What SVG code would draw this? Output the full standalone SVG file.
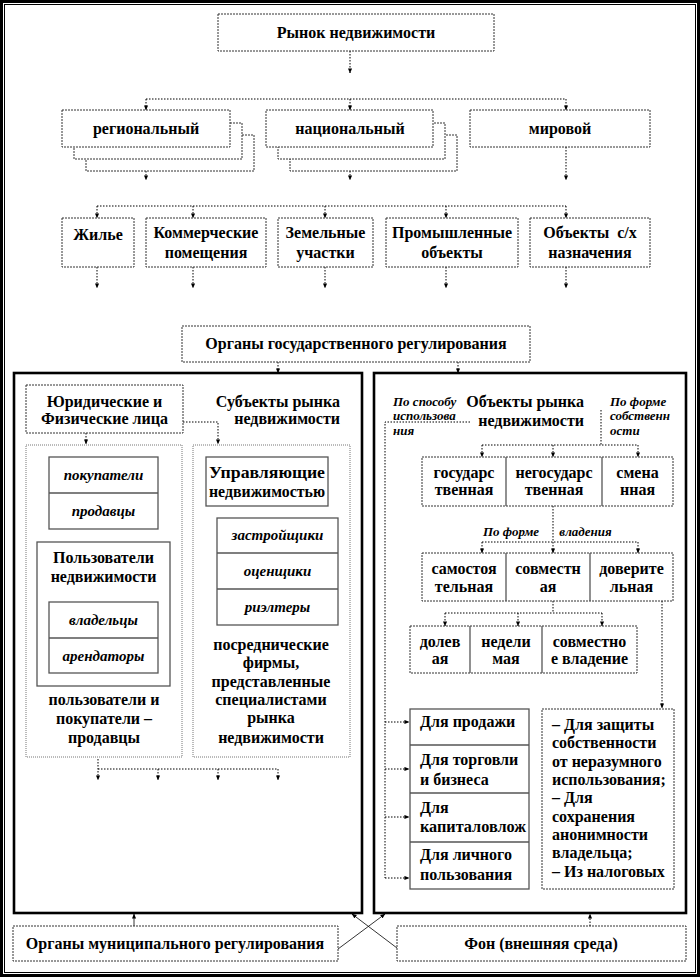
<svg xmlns="http://www.w3.org/2000/svg" width="700" height="977" viewBox="0 0 700 977" font-family="'Liberation Serif','Times New Roman',serif">
<defs>
<marker id="a" viewBox="0 0 6 6" refX="5.5" refY="3" markerWidth="5" markerHeight="5" markerUnits="userSpaceOnUse" orient="auto"><path d="M0,0.5 L6,3 L0,5.5 Z" fill="#000"/></marker>
<style>
.t{font-family:"Liberation Serif","Times New Roman",serif;font-weight:bold;font-size:16px;text-anchor:middle;fill:#000}
.st{text-anchor:start}
.en{text-anchor:end}
.i{font-style:italic;font-size:15px}
.sm{font-size:13px}
.box{fill:#fff;stroke:#333;stroke-width:1;stroke-dasharray:2 1}
.sol{fill:#fff;stroke:#555;stroke-width:1.3}
.dv{stroke:#555;stroke-width:1.3}
.cont{fill:none;stroke:#777;stroke-width:1;stroke-dasharray:1 1}
.pan{fill:none;stroke:#000;stroke-width:2.6}
.c{fill:none;stroke:#000;stroke-width:1;stroke-dasharray:1.5 1.5}
.ca{fill:none;stroke:#000;stroke-width:1;stroke-dasharray:1.5 1.5;marker-end:url(#a)}
.cs{fill:none;stroke:#000;stroke-width:0.8;marker-end:url(#a)}
</style>
</defs>
<rect x="1.5" y="1.5" width="697" height="974" fill="#fff" stroke="#000" stroke-width="3"/>
<rect x="4.5" y="4.5" width="691" height="968" fill="none" stroke="#000" stroke-width="1"/>

<g id="connectors">
<path class="ca" d="M350,51 V73"/>
<path class="c" d="M146,99 H566"/>
<path class="ca" d="M146,99 V110"/>
<path class="ca" d="M350,99 V110"/>
<path class="ca" d="M566,99 V110"/>
<path class="ca" d="M146,171 V180"/>
<path class="ca" d="M350,171 V180"/>
<path class="ca" d="M566,147 V180"/>
<path class="c" d="M97,206 H566"/>
<path class="ca" d="M97,206 V218"/>
<path class="ca" d="M193,206 V218"/>
<path class="ca" d="M325,206 V218"/>
<path class="ca" d="M446,206 V218"/>
<path class="ca" d="M566,206 V218"/>
<path class="ca" d="M97,267 V288"/>
<path class="ca" d="M193,267 V288"/>
<path class="ca" d="M325,267 V288"/>
<path class="ca" d="M446,267 V288"/>
<path class="ca" d="M566,267 V288"/>
<path class="ca" d="M278,362 V373"/>
<path class="ca" d="M458,362 V373"/>
<path class="ca" d="M183,422 H218 V444"/>
<path class="ca" d="M86,433 V444"/>
<path class="ca" d="M98,759 V780"/>
<path class="c" d="M98,769 H278"/>
<path class="ca" d="M158,769 V780"/>
<path class="ca" d="M218,769 V780"/>
<path class="ca" d="M278,769 V780"/>
<path class="c" d="M470,422 H385 V878"/>
<path class="ca" d="M385,722 H409"/>
<path class="ca" d="M385,769 H409"/>
<path class="ca" d="M385,817 H409"/>
<path class="ca" d="M385,878 H409"/>
<path class="c" d="M601,410 V445 M482,445 H638"/>
<path class="ca" d="M482,445 V457"/>
<path class="ca" d="M553,445 V457"/>
<path class="ca" d="M638,445 V457"/>
<path class="c" d="M553,506 V542 M482,542 H638"/>
<path class="ca" d="M482,542 V553"/>
<path class="ca" d="M553,542 V553"/>
<path class="ca" d="M638,542 V553"/>
<path class="c" d="M553,601 V613 M445,613 H602"/>
<path class="ca" d="M445,613 V626"/>
<path class="ca" d="M518,613 V626"/>
<path class="ca" d="M602,613 V626"/>
<path class="ca" d="M662,601 V708"/>
<path class="cs" d="M134,926 V914"/>
<path class="ca" d="M590,926 V914"/>
<path class="cs" d="M338,949 L385,914"/>
<path class="cs" d="M397,948 L352,914"/>
</g>

<g id="title"><rect class="box" x="218" y="14" width="276" height="37"/><text class="t" x="356" y="38">Рынок недвижимости</text></g>

<g id="regional">
<rect class="box" x="86" y="135" width="168" height="36"/>
<rect class="box" x="74" y="123" width="168" height="36"/>
<rect class="box" x="62" y="110" width="168" height="37"/>
<text class="t" x="146" y="134">региональный</text>
</g>
<g id="national">
<rect class="box" x="290" y="135" width="167" height="36"/>
<rect class="box" x="278" y="123" width="167" height="36"/>
<rect class="box" x="266" y="110" width="167" height="37"/>
<text class="t" x="350" y="134">национальный</text>
</g>
<g id="world"><rect class="box" x="470" y="110" width="180" height="37"/><text class="t" x="560" y="134">мировой</text></g>

<g id="housing"><rect class="box" x="62" y="218" width="72" height="49"/><text class="t" x="98" y="240">Жилье</text></g>
<g id="commercial"><rect class="box" x="146" y="218" width="120" height="49"/><text class="t" x="206" y="238">Коммерческие</text><text class="t" x="206" y="258">помещения</text></g>
<g id="land"><rect class="box" x="278" y="218" width="95" height="49"/><text class="t" x="325.5" y="238">Земельные</text><text class="t" x="325.5" y="258">участки</text></g>
<g id="industrial"><rect class="box" x="386" y="218" width="132" height="49"/><text class="t" x="452" y="238">Промышленные</text><text class="t" x="452" y="258">объекты</text></g>
<g id="agri"><rect class="box" x="530" y="218" width="120" height="49"/><text class="t" x="590" y="238" xml:space="preserve">Объекты  с/х</text><text class="t" x="590" y="258">назначения</text></g>

<g id="gov"><rect class="box" x="182" y="326" width="348" height="36"/><text class="t" x="356" y="349">Органы государственного регулирования</text></g>

<g id="left-panel">
<rect class="pan" x="14" y="373" width="348" height="540"/>
<rect class="cont" x="26" y="445" width="156" height="312"/>
<rect class="cont" x="193" y="445" width="157" height="312"/>
</g>
<g id="legal"><rect class="box" x="26" y="385" width="157" height="48"/><text class="t" x="104.5" y="407">Юридические и</text><text class="t" x="104.5" y="424">Физические лица</text></g>
<g id="subjects"><text class="t en" x="340" y="407">Субъекты рынка</text><text class="t en" x="340" y="424">недвижимости</text></g>
<g id="buyers"><rect class="sol" x="49" y="457" width="109" height="72"/><line class="dv" x1="49" y1="493" x2="158" y2="493"/><text class="t i" x="103.5" y="480">покупатели</text><text class="t i" x="103.5" y="516">продавцы</text></g>
<g id="users"><rect class="sol" x="37" y="542" width="133" height="144"/><text class="t" x="103.5" y="563">Пользователи</text><text class="t" x="103.5" y="582">недвижимости</text></g>
<g id="owners"><rect class="sol" x="49" y="602" width="109" height="71"/><line class="dv" x1="49" y1="638" x2="158" y2="638"/><text class="t i" x="103.5" y="625">владельцы</text><text class="t i" x="103.5" y="661">арендаторы</text></g>
<g id="users-caption"><text class="t" x="104" y="705">пользователи и</text><text class="t" x="104" y="724">покупатели –</text><text class="t" x="104" y="743">продавцы</text></g>
<g id="managers"><rect class="sol" x="206" y="457" width="122" height="49"/><text class="t" x="267" y="478" textLength="116" lengthAdjust="spacingAndGlyphs">Управляющие</text><text class="t" x="267" y="497" textLength="116" lengthAdjust="spacingAndGlyphs">недвижимостью</text></g>
<g id="builders"><rect class="sol" x="217" y="518" width="121" height="107"/><line class="dv" x1="217" y1="553" x2="338" y2="553"/><line class="dv" x1="217" y1="589" x2="338" y2="589"/><text class="t i" x="277.5" y="540">застройщики</text><text class="t i" x="277.5" y="576">оценщики</text><text class="t i" x="277.5" y="612">риэлтеры</text></g>
<g id="intermediaries"><text class="t" x="271" y="650">посреднические</text><text class="t" x="271" y="668">фирмы,</text><text class="t" x="271" y="687">представленные</text><text class="t" x="271" y="705">специалистами</text><text class="t" x="271" y="723">рынка</text><text class="t" x="271" y="743">недвижимости</text></g>

<g id="right-panel"><rect class="pan" x="374" y="373" width="312" height="540"/></g>
<g id="by-use"><text class="t i sm st" x="393" y="406">По способу</text><text class="t i sm st" x="393" y="420">использова</text><text class="t i sm st" x="393" y="435">ния</text></g>
<g id="objects"><text class="t en" x="584" y="407">Объекты рынка</text><text class="t en" x="584" y="426">недвижимости</text></g>
<g id="by-ownership"><text class="t i sm st" x="610" y="406">По форме</text><text class="t i sm st" x="610" y="420">собственн</text><text class="t i sm st" x="610" y="435">ости</text></g>
<g id="ownership"><rect class="box" x="422" y="457" width="251" height="49"/><line class="dv" x1="506" y1="457" x2="506" y2="506"/><line class="dv" x1="602" y1="457" x2="602" y2="506"/>
<text class="t" x="464" y="478">государс</text><text class="t" x="464" y="495">твенная</text>
<text class="t" x="554" y="478">негосударс</text><text class="t" x="554" y="495">твенная</text>
<text class="t" x="637.5" y="478">смена</text><text class="t" x="637.5" y="495">нная</text></g>
<g id="by-possession"><text class="t i sm" x="511" y="536">По форме</text><text class="t i sm" x="585.5" y="536">владения</text></g>
<g id="possession"><rect class="box" x="422" y="553" width="251" height="48"/><line class="dv" x1="506" y1="553" x2="506" y2="601"/><line class="dv" x1="590" y1="553" x2="590" y2="601"/>
<text class="t" x="464" y="574">самостоя</text><text class="t" x="464" y="592">тельная</text>
<text class="t" x="548" y="574">совместн</text><text class="t" x="548" y="592">ая</text>
<text class="t" x="631.5" y="574">доверите</text><text class="t" x="631.5" y="592">льная</text></g>
<g id="joint"><rect class="box" x="410" y="626" width="227" height="47"/><line class="dv" x1="470" y1="626" x2="470" y2="673"/><line class="dv" x1="542" y1="626" x2="542" y2="673"/>
<text class="t" x="440" y="647">долев</text><text class="t" x="440" y="664">ая</text>
<text class="t" x="506" y="647">недели</text><text class="t" x="506" y="664">мая</text>
<text class="t" x="589.5" y="647">совместно</text><text class="t" x="589.5" y="664">е владение</text></g>
<g id="purposes"><rect class="sol" x="410" y="709" width="119" height="180"/><line class="dv" x1="410" y1="745" x2="529" y2="745"/><line class="dv" x1="410" y1="793" x2="529" y2="793"/><line class="dv" x1="410" y1="842" x2="529" y2="842"/>
<text class="t st" x="420" y="727">Для продажи</text>
<text class="t st" x="420" y="765">Для торговли</text><text class="t st" x="420" y="785">и бизнеса</text>
<text class="t st" x="420" y="813">Для</text><text class="t st" x="420" y="832" textLength="106" lengthAdjust="spacingAndGlyphs">капиталовлож</text>
<text class="t st" x="420" y="860">Для личного</text><text class="t st" x="420" y="880">пользования</text></g>
<g id="trust-reasons"><rect class="box" x="542" y="709" width="132" height="180"/>
<text class="t st" x="552" y="730">– Для защиты</text><text class="t st" x="552" y="748">собственности</text><text class="t st" x="552" y="767">от неразумного</text><text class="t st" x="552" y="785">использования;</text><text class="t st" x="552" y="803">– Для</text><text class="t st" x="552" y="822">сохранения</text><text class="t st" x="552" y="840">анонимности</text><text class="t st" x="552" y="858">владельца;</text><text class="t st" x="552" y="877">– Из налоговых</text></g>

<g id="municipal"><rect class="box" x="13" y="926" width="325" height="35"/><text class="t" x="175" y="949">Органы муниципального регулирования</text></g>
<g id="environment"><rect class="box" x="397" y="926" width="289" height="35"/><text class="t" x="541" y="949">Фон (внешняя среда)</text></g>
</svg>
